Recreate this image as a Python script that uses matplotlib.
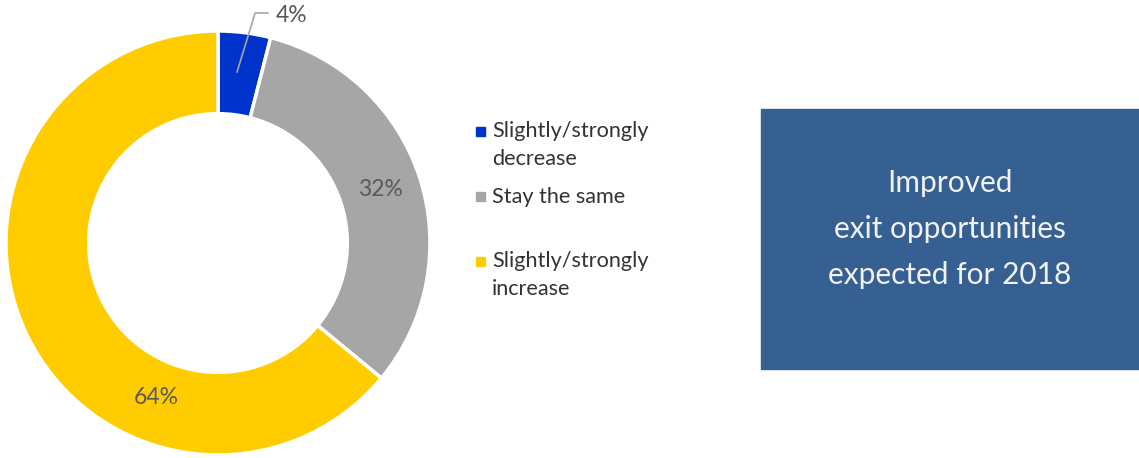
import matplotlib
matplotlib.use('Agg')
import matplotlib.pyplot as plt
from matplotlib.patches import Rectangle

# データ
categories = ['Slightly/strongly\ndecrease', 'Stay the same', 'Slightly/strongly\nincrease']
values = [4, 32, 64]
colors = ['#0033cc', '#a6a6a6', '#ffcc00']
box_text = 'Improved\nexit opportunities\nexpected for 2018'

plt.rcParams['font.family'] = ['Lato', 'DejaVu Sans']

W, H = 1139, 458
fig = plt.figure(figsize=(W / 100, H / 100), dpi=100)

# ドーナツグラフの領域 (中心 218,243 半径 212px)
cx, cy, r = 218, 243, 212
ax = fig.add_axes([(cx - r) / W, (H - cy - r) / H, 2 * r / W, 2 * r / H])
wedges, _ = ax.pie(values, colors=colors, startangle=90, counterclock=False,
                   radius=1, wedgeprops=dict(width=0.39, edgecolor='white', linewidth=2.5))
ax.set_xlim(-1, 1)
ax.set_ylim(-1, 1)
ax.set_aspect('equal')
ax.axis('off')

# ラベル
label_col = '#595959'
ax.text(0.765, 0.25, '32%', fontsize=16.5, color=label_col, ha='center', va='center')
ax.text(-0.29, -0.73, '64%', fontsize=16.5, color=label_col, ha='center', va='center')
# 4% は引き出し線付き
ax.plot([0.09, 0.175, 0.235], [0.807, 1.085, 1.085], color='#a6a6a6', lw=1.2, clip_on=False)
ax.text(0.27, 1.075, '4%', fontsize=16.5, color=label_col, ha='left', va='center')

# 凡例 (手動配置)
leg_y = [145, 197, 275]
for cat, col, y in zip(categories, colors, leg_y):
    y0 = y - 13 if '\n' in cat else y
    fig.patches.append(Rectangle((476 / W, (H - y0 - 4) / H), 9 / W, 9 / H,
                                 transform=fig.transFigure, color=col, figure=fig))
    fig.text(492 / W, (H - y) / H, cat, fontsize=15.6, color='#333333',
             ha='left', va='center', linespacing=1.45)

# 右側のボックス
fig.patches.append(Rectangle((761 / W, (H - 369) / H), (1139 - 761) / W, (369 - 109) / H,
                             transform=fig.transFigure, color='#366092', figure=fig))
fig.text(950 / W, (H - 229) / H, box_text, fontsize=21.5, color='#f2f2f2',
         ha='center', va='center', linespacing=1.78)

fig.savefig('out.png', dpi=100)
